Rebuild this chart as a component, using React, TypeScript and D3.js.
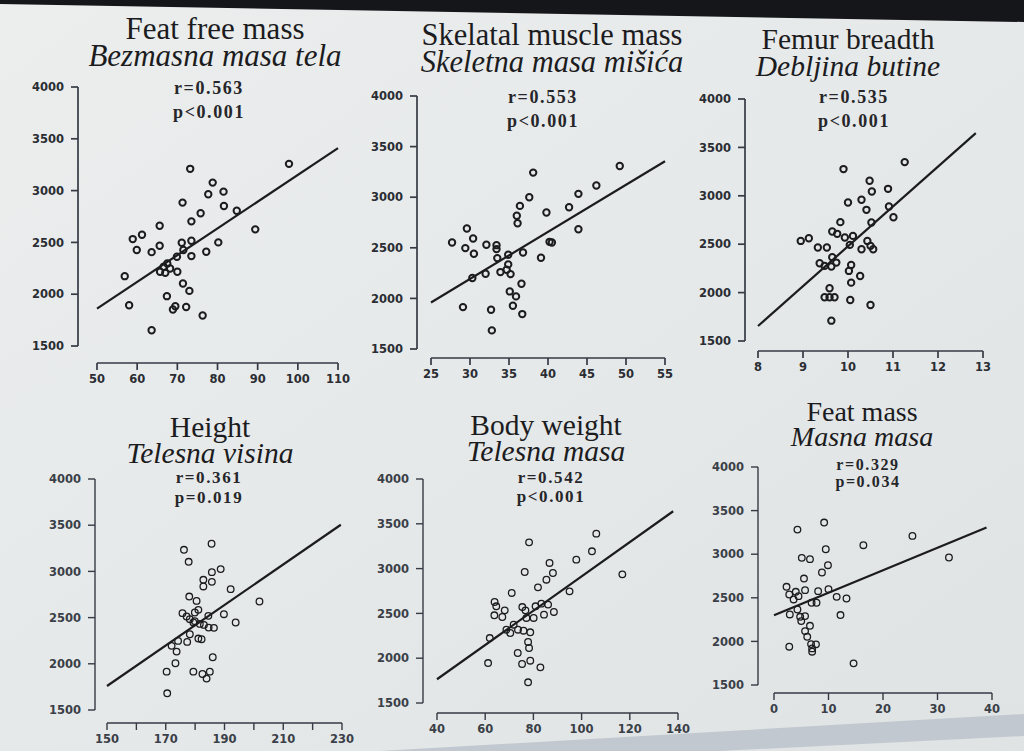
import React from "react";
import * as d3 from "d3";

// ---------- DATA ----------
const yTicks = [1500, 2000, 2500, 3000, 3500, 4000];
const yDomain: [number, number] = [1500, 4000];

// Panel 1: Feat free mass
const ffmX = [73.2, 97.8, 78.8, 81.5, 77.7, 71.3, 81.6, 84.8, 75.8, 73.5, 65.6, 89.4, 61.2, 58.9, 65.6, 59.9, 63.6, 71.1, 73.5, 80.2, 77.2, 73.5, 71.5, 69.9, 67.5, 66.6, 65.7, 67.0, 68.2, 70.0, 56.9, 71.4, 73.0, 67.4, 58.0, 69.5, 68.9, 72.2, 76.3, 63.6];
const ffmY = [3210, 3258, 3077, 2990, 2965, 2884, 2852, 2806, 2781, 2703, 2661, 2626, 2574, 2532, 2468, 2426, 2406, 2497, 2516, 2500, 2410, 2368, 2426, 2361, 2297, 2265, 2216, 2206, 2248, 2216, 2174, 2103, 2032, 1981, 1894, 1884, 1852, 1877, 1794, 1652];
const ffmFit = [[50, 1860], [110, 3410]];
const ffmXTicks = [50, 60, 70, 80, 90, 100, 110];

// Panel 2: Skeletal muscle mass
const smmX = [49.2, 46.2, 43.9, 38.1, 37.6, 36.4, 42.7, 39.8, 36.0, 36.1, 43.9, 29.6, 30.4, 27.7, 40.2, 40.5, 32.1, 33.4, 33.4, 29.4, 30.5, 34.9, 36.8, 33.5, 39.1, 34.9, 34.7, 33.9, 32.0, 35.2, 30.3, 36.6, 35.1, 35.9, 29.1, 35.5, 32.7, 36.7, 32.8];
const smmY = [3309, 3115, 3033, 3243, 3000, 2914, 2901, 2849, 2816, 2743, 2684, 2691, 2592, 2553, 2559, 2553, 2530, 2526, 2487, 2497, 2441, 2431, 2454, 2398, 2401, 2336, 2283, 2260, 2243, 2240, 2201, 2145, 2069, 2020, 1914, 1928, 1888, 1845, 1684];
const smmFit = [[25, 1960], [55, 3355]];
const smmXTicks = [25, 30, 35, 40, 45, 50, 55];

// Panel 3: Femur breadth
const fbX = [11.26, 9.90, 10.48, 10.53, 10.89, 10.0, 10.30, 10.41, 10.91, 11.01, 9.83, 10.52, 9.65, 9.76, 9.93, 10.11, 8.95, 9.13, 9.33, 9.53, 10.04, 10.43, 10.30, 10.56, 10.50, 9.65, 9.37, 9.48, 9.63, 9.74, 10.07, 10.02, 10.27, 10.07, 9.59, 9.48, 9.59, 9.70, 10.05, 10.50, 9.63];
const fbY = [3348, 3276, 3155, 3045, 3072, 2931, 2959, 2855, 2890, 2779, 2728, 2724, 2631, 2607, 2569, 2586, 2534, 2562, 2466, 2466, 2493, 2534, 2448, 2448, 2483, 2366, 2303, 2276, 2269, 2310, 2286, 2224, 2172, 2103, 2045, 1952, 1952, 1952, 1924, 1872, 1710];
const fbFit = [[8, 1655], [12.84, 3648]];
const fbXTicks = [8, 9, 10, 11, 12, 13];

// Panel 4: Height
const htX = [185.6, 176.2, 177.8, 188.7, 185.7, 182.8, 182.8, 185.7, 192.1, 178.0, 180.5, 201.9, 181.1, 175.7, 177.1, 178.2, 179.9, 184.5, 189.8, 193.8, 179.9, 181.6, 179.4, 183.0, 184.6, 186.4, 178.2, 174.2, 177.3, 181.1, 182.2, 172.0, 173.7, 173.3, 186.0, 170.3, 179.4, 182.5, 185.0, 183.9, 170.5];
const htY = [3299, 3234, 3104, 3025, 2992, 2909, 2837, 2887, 2808, 2728, 2681, 2674, 2584, 2548, 2512, 2483, 2555, 2519, 2537, 2447, 2461, 2432, 2447, 2421, 2392, 2389, 2320, 2248, 2237, 2273, 2266, 2194, 2132, 2006, 2071, 1915, 1915, 1890, 1915, 1840, 1681];
const htFit = [[150, 1760], [229.6, 3505]];
const htXTicks = [150, 160, 170, 180, 190, 200, 210, 220, 230];
const htXLabels = [150, 170, 190, 210, 230];

// Panel 5: Body weight
const bwX = [106.1, 78.2, 104.3, 97.8, 86.7, 76.4, 88.1, 116.9, 85.4, 81.9, 71.0, 95.0, 63.9, 64.6, 75.4, 76.7, 68.1, 63.8, 67.1, 80.9, 83.3, 86.1, 88.5, 84.4, 77.1, 80.1, 71.8, 68.8, 70.4, 73.6, 75.9, 78.7, 61.9, 77.8, 78.2, 73.5, 61.2, 75.3, 78.7, 82.9, 77.8];
const bwY = [3390, 3293, 3193, 3100, 3063, 2962, 2951, 2936, 2876, 2791, 2728, 2746, 2627, 2579, 2571, 2534, 2534, 2479, 2460, 2579, 2609, 2598, 2516, 2486, 2449, 2449, 2374, 2318, 2281, 2318, 2307, 2289, 2225, 2181, 2114, 2058, 1946, 1935, 1972, 1898, 1731];
const bwFit = [[40, 1765], [138, 3640]];
const bwXTicks = [40, 60, 80, 100, 120, 140];

// Panel 6: Feat mass
const fmX = [9.2, 4.3, 25.4, 16.4, 9.5, 32.1, 5.1, 6.6, 9.9, 8.8, 5.5, 2.3, 4.0, 5.7, 2.8, 4.5, 3.6, 8.1, 10.0, 11.5, 13.3, 6.9, 7.8, 4.3, 2.9, 4.8, 5.7, 5.0, 12.2, 6.6, 5.7, 6.1, 2.8, 6.8, 7.7, 7.0, 7.0, 14.6];
const fmY = [3363, 3282, 3210, 3103, 3057, 2962, 2958, 2943, 2874, 2790, 2721, 2626, 2569, 2588, 2538, 2519, 2481, 2576, 2599, 2511, 2492, 2443, 2443, 2366, 2309, 2282, 2290, 2233, 2302, 2179, 2118, 2053, 1939, 1969, 1966, 1920, 1882, 1748];
const fmFit = [[0, 2300], [39, 3305]];
const fmXTicks = [0, 10, 20, 30, 40];

const titles = ["Feat free mass", "Skelatal muscle mass", "Femur breadth", "Height", "Body weight", "Feat mass"];
const subtitles = ["Bezmasna masa tela", "Skeletna masa mišića", "Debljina butine", "Telesna visina", "Telesna masa", "Masna masa"];
const rLabels = ["r=0.563", "r=0.553", "r=0.535", "r=0.361", "r=0.542", "r=0.329"];
const pLabels = ["p<0.001", "p<0.001", "p<0.001", "p=0.019", "p<0.001", "p=0.034"];

// ---------- LAYOUT (positions / styles) ----------
type Geo = {
  ax: number; yTop: number; yBot: number; xAxisY: number; xL: number; xR: number;
  tx: number; t1: number; t2: number; titleSize: number;
  rx: number; r1: number; r2: number; statSize: number;
  top: boolean; dotR: number; dotW: number;
};
const geos: Geo[] = [
  { ax: 78, yTop: 87, yBot: 346, xAxisY: 363, xL: 97, xR: 338, tx: 215, t1: 39, t2: 66, titleSize: 31, rx: 209, r1: 94, r2: 118, statSize: 18, top: true, dotR: 3.2, dotW: 2 },
  { ax: 417, yTop: 96, yBot: 349, xAxisY: 358, xL: 431, xR: 665, tx: 552, t1: 45, t2: 72, titleSize: 30.5, rx: 543, r1: 103, r2: 127, statSize: 18, top: true, dotR: 3.2, dotW: 2 },
  { ax: 745, yTop: 99, yBot: 341, xAxisY: 351, xL: 758, xR: 983, tx: 848, t1: 49, t2: 76, titleSize: 29.5, rx: 854, r1: 103, r2: 127, statSize: 18, top: true, dotR: 3.2, dotW: 2 },
  { ax: 95, yTop: 479, yBot: 710, xAxisY: 723, xL: 107, xR: 342, tx: 210, t1: 437, t2: 463, titleSize: 29.5, rx: 209, r1: 483, r2: 503, statSize: 17, top: false, dotR: 3.3, dotW: 1.3 },
  { ax: 423, yTop: 479, yBot: 703, xAxisY: 713, xL: 437, xR: 678, tx: 546, t1: 435, t2: 461, titleSize: 29.5, rx: 551, r1: 483, r2: 502, statSize: 17, top: false, dotR: 3.3, dotW: 1.3 },
  { ax: 758, yTop: 467, yBot: 685, xAxisY: 693, xL: 774, xR: 992, tx: 862, t1: 421, t2: 446, titleSize: 28, rx: 868, r1: 470, r2: 487, statSize: 16, top: false, dotR: 3.3, dotW: 1.3 },
];

const panelData = [
  { xs: ffmX, ys: ffmY, fit: ffmFit, xTicks: ffmXTicks, xLabels: ffmXTicks },
  { xs: smmX, ys: smmY, fit: smmFit, xTicks: smmXTicks, xLabels: smmXTicks },
  { xs: fbX, ys: fbY, fit: fbFit, xTicks: fbXTicks, xLabels: fbXTicks },
  { xs: htX, ys: htY, fit: htFit, xTicks: htXTicks, xLabels: htXLabels },
  { xs: bwX, ys: bwY, fit: bwFit, xTicks: bwXTicks, xLabels: bwXTicks },
  { xs: fmX, ys: fmY, fit: fmFit, xTicks: fmXTicks, xLabels: fmXTicks },
];

const INK = "#1c1c1e";
const AXIS = "#353a44";

function Panel({ i }: { i: number }) {
  const g = geos[i];
  const d = panelData[i];
  const x = d3.scaleLinear().domain(d3.extent(d.xTicks) as [number, number]).range([g.xL, g.xR]);
  const y = d3.scaleLinear().domain(yDomain).range([g.yBot, g.yTop]);
  const line = d3.line<number[]>().x((p) => x(p[0])).y((p) => y(p[1]));
  const tickFont = {
    fontFamily: "'DejaVu Sans', Verdana, sans-serif",
    fontSize: 11.5,
    fontWeight: 700,
    fill: g.top ? "#2a2d33" : "#3a3f48",
  } as const;
  const aw = g.top ? 1.7 : 1.4;
  return (
    <g>
      <text x={g.tx} y={g.t1} textAnchor="middle" fontFamily="'Liberation Serif', 'Times New Roman', serif" fontSize={g.titleSize} fill={INK}>
        <tspan x={g.tx} y={g.t1}>{titles[i]}</tspan>
        <tspan x={g.tx} y={g.t2} fontStyle="italic">{subtitles[i]}</tspan>
      </text>
      <text x={g.rx} y={g.r1} textAnchor="middle" fontFamily="'Liberation Serif', serif" fontWeight={700} fontSize={g.statSize} letterSpacing={1.6} fill="#26262a">
        {rLabels[i]}
      </text>
      <text x={g.rx} y={g.r2} textAnchor="middle" fontFamily="'Liberation Serif', serif" fontWeight={700} fontSize={g.statSize} letterSpacing={1.6} fill="#26262a">
        {pLabels[i]}
      </text>
      {/* y axis */}
      <line x1={g.ax} x2={g.ax} y1={y(yDomain[0])} y2={y(yDomain[1])} stroke={AXIS} strokeWidth={aw} />
      {yTicks.map((t) => (
        <g key={"y" + t}>
          <line x1={g.ax - 7} x2={g.ax} y1={y(t)} y2={y(t)} stroke={AXIS} strokeWidth={aw} />
          <text x={g.ax - 14} y={y(t)} dy="0.36em" textAnchor="end" {...tickFont}>
            {t}
          </text>
        </g>
      ))}
      {/* x axis */}
      <line x1={x.range()[0]} x2={x.range()[1]} y1={g.xAxisY} y2={g.xAxisY} stroke={AXIS} strokeWidth={aw} />
      {d.xTicks.map((t) => (
        <line key={"xt" + t} x1={x(t)} x2={x(t)} y1={g.xAxisY} y2={g.xAxisY + 7} stroke={AXIS} strokeWidth={aw} />
      ))}
      {d.xLabels.map((t) => (
        <text key={"xl" + t} x={x(t)} y={g.xAxisY + 20} textAnchor="middle" {...tickFont}>
          {t}
        </text>
      ))}
      {/* points */}
      {d.xs.map((v, k) => (
        <circle key={"c" + k} cx={x(v)} cy={y(d.ys[k])} r={g.dotR} fill="none" stroke={INK} strokeWidth={g.dotW} />
      ))}
      {/* regression line */}
      <path d={line(d.fit) || ""} fill="none" stroke={INK} strokeWidth={2.2} />
    </g>
  );
}

export default function App() {
  return (
    <div style={{ position: "absolute", left: 0, top: 0, width: 1024, height: 751, overflow: "hidden" }}>
      <svg width={1024} height={751} viewBox="0 0 1024 751" style={{ display: "block" }}>
        <defs>
          <linearGradient id="bg" x1="0" y1="0" x2="1" y2="1">
            <stop offset="0" stopColor="#eceeee" />
            <stop offset="0.5" stopColor="#e6e9e9" />
            <stop offset="1" stopColor="#dfe3e4" />
          </linearGradient>
        </defs>
        <rect x={0} y={0} width={1024} height={751} fill="url(#bg)" />
        <polygon points="0,0 1024,0 1024,22 0,4" fill="#15161a" />
        <polygon points="380,751 1024,714 1024,736 720,751" fill="#c2c8d0" />
        {geos.map((_, i) => (
          <Panel key={i} i={i} />
        ))}
      </svg>
    </div>
  );
}
